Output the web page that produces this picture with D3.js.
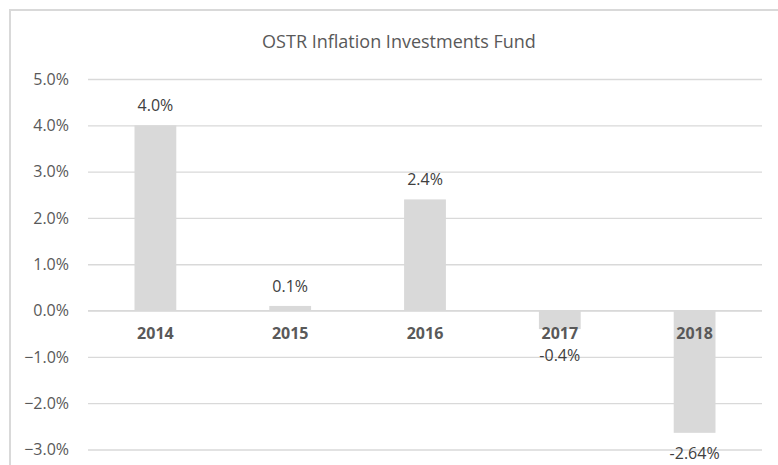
<!DOCTYPE html>
<html>
<head>
<meta charset="utf-8">
<script src="https://cdn.jsdelivr.net/npm/d3@7"></script>
<style>
  body { margin: 0; background: #fff; }
  text { font-family: "Open Sans", sans-serif; }
</style>
</head>
<body>
<div id="chart"></div>
<script>
// chart values
var years = ["2014", "2015", "2016", "2017", "2018"];
var returns = [4.0, 0.1, 2.4, -0.4, -2.64];
var valueLabels = ["4.0%", "0.1%", "2.4%", "-0.4%", "-2.64%"];
var yTicks = [-3, -2, -1, 0, 1, 2, 3, 4, 5];

var W = 778, H = 465;
var margin = {top: 79, right: 16, bottom: 16, left: 88};
var width = W - margin.left - margin.right;

var svg = d3.select("#chart").append("svg")
    .attr("width", W)
    .attr("height", H);

// chart border (runs off the right and bottom edges)
svg.append("rect")
    .attr("x", 10).attr("y", 10)
    .attr("width", W + 20).attr("height", H + 20)
    .attr("fill", "none")
    .attr("stroke", "#d9d9d9")
    .attr("stroke-width", 2);

svg.append("text")
    .attr("x", 399)
    .attr("y", 48)
    .attr("text-anchor", "middle")
    .attr("font-size", 18)
    .attr("fill", "#595959")
    .text("OSTR Inflation Investments Fund");

var g = svg.append("g")
    .attr("transform", "translate(" + margin.left + "," + margin.top + ")");

var x = d3.scaleBand()
    .domain(years)
    .range([0, width])
    .paddingInner(0.69)
    .paddingOuter(0.345);

// 5% at top, -3% at 449
var y = d3.scaleLinear()
    .domain([-3, 5])
    .range([370.5, 0]);

// gridlines
var yAxis = d3.axisLeft(y)
    .tickValues(yTicks)
    .tickSize(-width)
    .tickPadding(19)
    .tickFormat(function(d) { return d3.format(".1f")(d) + "%"; });

var ga = g.append("g").attr("class", "y-axis").call(yAxis);
ga.select(".domain").remove();
ga.selectAll("line").attr("stroke", "#d9d9d9").attr("stroke-width", 1.3);
ga.selectAll("text")
    .attr("font-size", 16)
    .attr("fill", "#595959")
    .style("font-family", "'Open Sans', sans-serif");

// bars
g.selectAll(".bar")
    .data(returns)
  .enter().append("rect")
    .attr("class", "bar")
    .attr("x", function(d, i) { return x(years[i]); })
    .attr("width", x.bandwidth())
    .attr("y", function(d) { return y(Math.max(0, d)); })
    .attr("height", function(d) { return Math.abs(y(d) - y(0)); })
    .attr("fill", "#d9d9d9");

// redraw zero line over bars
g.append("line")
    .attr("x1", 0).attr("x2", width)
    .attr("y1", y(0)).attr("y2", y(0))
    .attr("stroke", "#d9d9d9")
    .attr("stroke-width", 1.3);

// category labels along the zero line
g.selectAll(".cat")
    .data(years)
  .enter().append("text")
    .attr("class", "cat")
    .attr("x", function(d) { return x(d) + x.bandwidth() / 2; })
    .attr("y", y(0) + 28)
    .attr("text-anchor", "middle")
    .attr("font-size", 16)
    .attr("font-weight", "bold")
    .attr("fill", "#595959")
    .text(function(d) { return d; });

// value labels (negative ones kept clear of the category labels)
g.selectAll(".val")
    .data(returns)
  .enter().append("text")
    .attr("class", "val")
    .attr("x", function(d, i) { return x(years[i]) + x.bandwidth() / 2; })
    .attr("y", function(d) {
      return d >= 0 ? y(d) - 14 : Math.max(y(d) + 26, y(0) + 50);
    })
    .attr("text-anchor", "middle")
    .attr("font-size", 16)
    .attr("fill", "#404040")
    .text(function(d, i) { return valueLabels[i]; });
</script>
</body>
</html>
